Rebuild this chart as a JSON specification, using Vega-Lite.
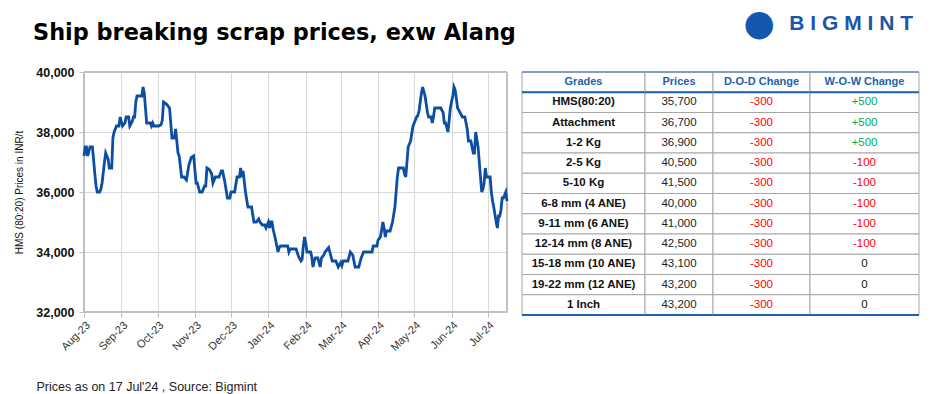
{
  "$schema": "https://vega.github.io/schema/vega-lite/v6.json",
  "background": "white",
  "padding": {"left": 14, "top": 5, "right": 14, "bottom": 4},
  "config": {"view": {"stroke": null}, "font": "Liberation Sans"},
  "datasets": {
    "prices": [
      {"date": "2023-08-01", "price": 37200}, {"date": "2023-08-02", "price": 37500}, {"date": "2023-08-03", "price": 37500},
      {"date": "2023-08-04", "price": 37200}, {"date": "2023-08-06", "price": 37500}, {"date": "2023-08-08", "price": 37500},
      {"date": "2023-08-10", "price": 36600}, {"date": "2023-08-11", "price": 36200}, {"date": "2023-08-12", "price": 36000},
      {"date": "2023-08-14", "price": 36000}, {"date": "2023-08-15", "price": 36100}, {"date": "2023-08-16", "price": 36300},
      {"date": "2023-08-18", "price": 37000}, {"date": "2023-08-19", "price": 37300}, {"date": "2023-08-21", "price": 37100},
      {"date": "2023-08-22", "price": 36800}, {"date": "2023-08-24", "price": 36800}, {"date": "2023-08-25", "price": 37800},
      {"date": "2023-08-26", "price": 38000}, {"date": "2023-08-28", "price": 38200}, {"date": "2023-08-30", "price": 38200},
      {"date": "2023-08-31", "price": 38500}, {"date": "2023-09-02", "price": 38200}, {"date": "2023-09-04", "price": 38300},
      {"date": "2023-09-05", "price": 38500}, {"date": "2023-09-07", "price": 38500}, {"date": "2023-09-08", "price": 38200},
      {"date": "2023-09-10", "price": 38350}, {"date": "2023-09-11", "price": 38500}, {"date": "2023-09-12", "price": 38500},
      {"date": "2023-09-13", "price": 39000}, {"date": "2023-09-14", "price": 39200}, {"date": "2023-09-18", "price": 39200},
      {"date": "2023-09-19", "price": 39500}, {"date": "2023-09-20", "price": 39300}, {"date": "2023-09-21", "price": 38800},
      {"date": "2023-09-22", "price": 38300}, {"date": "2023-09-25", "price": 38300}, {"date": "2023-09-26", "price": 38200},
      {"date": "2023-09-27", "price": 38300}, {"date": "2023-09-28", "price": 38200}, {"date": "2023-10-02", "price": 38200},
      {"date": "2023-10-04", "price": 38250}, {"date": "2023-10-05", "price": 38400}, {"date": "2023-10-06", "price": 39000},
      {"date": "2023-10-08", "price": 38950}, {"date": "2023-10-10", "price": 38850}, {"date": "2023-10-11", "price": 38800},
      {"date": "2023-10-13", "price": 37800}, {"date": "2023-10-15", "price": 37800}, {"date": "2023-10-16", "price": 38100},
      {"date": "2023-10-18", "price": 37300}, {"date": "2023-10-19", "price": 37200}, {"date": "2023-10-21", "price": 36500},
      {"date": "2023-10-23", "price": 36500}, {"date": "2023-10-25", "price": 36400}, {"date": "2023-10-27", "price": 36900},
      {"date": "2023-10-29", "price": 37150}, {"date": "2023-10-31", "price": 37200}, {"date": "2023-11-02", "price": 36300},
      {"date": "2023-11-03", "price": 36300}, {"date": "2023-11-05", "price": 36000}, {"date": "2023-11-07", "price": 36000},
      {"date": "2023-11-09", "price": 36200}, {"date": "2023-11-10", "price": 36200}, {"date": "2023-11-11", "price": 36800},
      {"date": "2023-11-13", "price": 36750}, {"date": "2023-11-15", "price": 36600}, {"date": "2023-11-16", "price": 36300},
      {"date": "2023-11-18", "price": 36500}, {"date": "2023-11-21", "price": 36500}, {"date": "2023-11-23", "price": 36700},
      {"date": "2023-11-24", "price": 36700}, {"date": "2023-11-26", "price": 36300}, {"date": "2023-11-28", "price": 35800},
      {"date": "2023-11-30", "price": 35800}, {"date": "2023-12-01", "price": 36000}, {"date": "2023-12-04", "price": 36000},
      {"date": "2023-12-06", "price": 36500}, {"date": "2023-12-08", "price": 36500}, {"date": "2023-12-09", "price": 36800},
      {"date": "2023-12-10", "price": 36500}, {"date": "2023-12-11", "price": 36700}, {"date": "2023-12-13", "price": 36000},
      {"date": "2023-12-15", "price": 35500}, {"date": "2023-12-18", "price": 35500}, {"date": "2023-12-20", "price": 35000},
      {"date": "2023-12-22", "price": 35000}, {"date": "2023-12-24", "price": 35100}, {"date": "2023-12-25", "price": 35000},
      {"date": "2023-12-27", "price": 34900}, {"date": "2023-12-29", "price": 34900}, {"date": "2023-12-30", "price": 34800},
      {"date": "2024-01-01", "price": 35000}, {"date": "2024-01-02", "price": 34800}, {"date": "2024-01-03", "price": 35000},
      {"date": "2024-01-04", "price": 35000}, {"date": "2024-01-05", "price": 34750}, {"date": "2024-01-07", "price": 34400},
      {"date": "2024-01-09", "price": 34000}, {"date": "2024-01-10", "price": 34150}, {"date": "2024-01-11", "price": 34200},
      {"date": "2024-01-17", "price": 34200}, {"date": "2024-01-18", "price": 34000}, {"date": "2024-01-19", "price": 34100},
      {"date": "2024-01-24", "price": 34100}, {"date": "2024-01-26", "price": 33850}, {"date": "2024-01-28", "price": 33700},
      {"date": "2024-01-29", "price": 33750}, {"date": "2024-01-30", "price": 34200}, {"date": "2024-01-31", "price": 34500},
      {"date": "2024-02-01", "price": 34300}, {"date": "2024-02-02", "price": 34000}, {"date": "2024-02-05", "price": 34000},
      {"date": "2024-02-06", "price": 33850}, {"date": "2024-02-07", "price": 33500}, {"date": "2024-02-08", "price": 33700},
      {"date": "2024-02-09", "price": 33800}, {"date": "2024-02-11", "price": 33800}, {"date": "2024-02-13", "price": 33500},
      {"date": "2024-02-14", "price": 33800}, {"date": "2024-02-16", "price": 33900}, {"date": "2024-02-17", "price": 34000},
      {"date": "2024-02-20", "price": 34150}, {"date": "2024-02-21", "price": 34000}, {"date": "2024-02-23", "price": 33700},
      {"date": "2024-02-26", "price": 33700}, {"date": "2024-02-28", "price": 33500}, {"date": "2024-03-01", "price": 33650},
      {"date": "2024-03-02", "price": 33550}, {"date": "2024-03-03", "price": 33700}, {"date": "2024-03-07", "price": 33700},
      {"date": "2024-03-09", "price": 34000}, {"date": "2024-03-11", "price": 33900}, {"date": "2024-03-13", "price": 33500},
      {"date": "2024-03-16", "price": 33500}, {"date": "2024-03-18", "price": 33800}, {"date": "2024-03-20", "price": 34000},
      {"date": "2024-03-27", "price": 34000}, {"date": "2024-03-28", "price": 34200}, {"date": "2024-03-31", "price": 34200},
      {"date": "2024-04-01", "price": 34400}, {"date": "2024-04-03", "price": 34500}, {"date": "2024-04-05", "price": 35000},
      {"date": "2024-04-06", "price": 34800}, {"date": "2024-04-07", "price": 34500}, {"date": "2024-04-08", "price": 34700},
      {"date": "2024-04-11", "price": 34700}, {"date": "2024-04-13", "price": 35000}, {"date": "2024-04-15", "price": 35500},
      {"date": "2024-04-17", "price": 36500}, {"date": "2024-04-18", "price": 36800}, {"date": "2024-04-22", "price": 36800},
      {"date": "2024-04-23", "price": 36600}, {"date": "2024-04-24", "price": 36500}, {"date": "2024-04-25", "price": 37000},
      {"date": "2024-04-26", "price": 37500}, {"date": "2024-04-28", "price": 37700}, {"date": "2024-04-30", "price": 38200},
      {"date": "2024-05-01", "price": 38300}, {"date": "2024-05-03", "price": 38500}, {"date": "2024-05-04", "price": 38550},
      {"date": "2024-05-05", "price": 38700}, {"date": "2024-05-06", "price": 39000}, {"date": "2024-05-07", "price": 39300},
      {"date": "2024-05-08", "price": 39500}, {"date": "2024-05-10", "price": 39200}, {"date": "2024-05-12", "price": 38650},
      {"date": "2024-05-13", "price": 38500}, {"date": "2024-05-15", "price": 38500}, {"date": "2024-05-16", "price": 38300},
      {"date": "2024-05-17", "price": 38500}, {"date": "2024-05-18", "price": 38800}, {"date": "2024-05-23", "price": 38800},
      {"date": "2024-05-25", "price": 38650}, {"date": "2024-05-26", "price": 38300}, {"date": "2024-05-27", "price": 38300},
      {"date": "2024-05-29", "price": 38000}, {"date": "2024-05-30", "price": 38400}, {"date": "2024-05-31", "price": 38800},
      {"date": "2024-06-02", "price": 39200}, {"date": "2024-06-03", "price": 39500}, {"date": "2024-06-04", "price": 39400},
      {"date": "2024-06-05", "price": 39100}, {"date": "2024-06-06", "price": 38800}, {"date": "2024-06-08", "price": 38650},
      {"date": "2024-06-10", "price": 38500}, {"date": "2024-06-12", "price": 38500}, {"date": "2024-06-14", "price": 38100},
      {"date": "2024-06-15", "price": 37700}, {"date": "2024-06-17", "price": 37700}, {"date": "2024-06-19", "price": 37300},
      {"date": "2024-06-20", "price": 37300}, {"date": "2024-06-21", "price": 38000}, {"date": "2024-06-23", "price": 37500},
      {"date": "2024-06-25", "price": 36500}, {"date": "2024-06-26", "price": 36000}, {"date": "2024-06-27", "price": 36100},
      {"date": "2024-06-28", "price": 36300}, {"date": "2024-06-29", "price": 36800}, {"date": "2024-06-30", "price": 36500},
      {"date": "2024-07-03", "price": 36500}, {"date": "2024-07-04", "price": 36000}, {"date": "2024-07-05", "price": 35700},
      {"date": "2024-07-06", "price": 35500}, {"date": "2024-07-08", "price": 35000}, {"date": "2024-07-09", "price": 34800},
      {"date": "2024-07-10", "price": 35200}, {"date": "2024-07-11", "price": 35200}, {"date": "2024-07-12", "price": 35400},
      {"date": "2024-07-13", "price": 35800}, {"date": "2024-07-14", "price": 35800}, {"date": "2024-07-15", "price": 35900},
      {"date": "2024-07-16", "price": 36000}, {"date": "2024-07-17", "price": 35700}
    ],
    "table": [
      {"grade": "Grades", "price": "Prices", "dod": "D-O-D Change", "wow": "W-O-W Change"},
      {"grade": "HMS(80:20)", "price": "35,700", "dod": "-300", "wow": "+500"},
      {"grade": "Attachment", "price": "36,700", "dod": "-300", "wow": "+500"},
      {"grade": "1-2 Kg", "price": "36,900", "dod": "-300", "wow": "+500"},
      {"grade": "2-5 Kg", "price": "40,500", "dod": "-300", "wow": "-100"},
      {"grade": "5-10 Kg", "price": "41,500", "dod": "-300", "wow": "-100"},
      {"grade": "6-8 mm (4 ANE)", "price": "40,000", "dod": "-300", "wow": "-100"},
      {"grade": "9-11 mm (6 ANE)", "price": "41,000", "dod": "-300", "wow": "-100"},
      {"grade": "12-14 mm (8 ANE)", "price": "42,500", "dod": "-300", "wow": "-100"},
      {"grade": "15-18 mm (10 ANE)", "price": "43,100", "dod": "-300", "wow": "0"},
      {"grade": "19-22 mm (12 ANE)", "price": "43,200", "dod": "-300", "wow": "0"},
      {"grade": "1 Inch", "price": "43,200", "dod": "-300", "wow": "0"}
    ]
  },
  "bounds": "flush",
  "spacing": 15,
  "hconcat": [
    {
      "width": 423,
      "height": 240,
      "data": {"name": "prices"},
      "title": {"text": "Ship breaking scrap prices, exw Alang", "anchor": "start", "frame": "group", "dx": -51, "offset": 22, "fontSize": 22.4, "fontWeight": "bold", "color": "#000000", "font": "DejaVu Sans"},
      "layer": [
        {
          "mark": {"type": "rect", "fill": null, "stroke": "#bfbfbf", "strokeWidth": 1},
          "encoding": {}
        },
        {
          "mark": {"type": "line", "color": "#0b4ea2", "strokeWidth": 2.8, "interpolate": "linear"},
          "encoding": {
            "x": {"field": "date", "type": "temporal",
              "scale": {"domain": ["2023-08-01T00:00:00", "2024-07-17T00:00:00"], "nice": false},
              "axis": {"format": "%b-%y", "tickCount": {"interval": "month", "step": 1}, "labelAngle": -45, "labelAlign": "right", "labelBaseline": "top",
                "labelFontSize": 11, "labelColor": "#333333", "labelPadding": 2, "labelOverlap": false, "labelFlush": false,
                "grid": true, "gridColor": "#d9d9d9", "domainColor": "#bfbfbf", "tickColor": "#bfbfbf", "tickSize": 5,
                "title": "Prices as on 17 Jul'24 , Source: Bigmint", "titleAnchor": "start", "titleAlign": "left", "titleBaseline": "alphabetic",
                "titleX": -48, "titleY": 78, "titleFontSize": 12.5, "titleFontWeight": "normal", "titleColor": "#222222"}
            },
            "y": {"field": "price", "type": "quantitative",
              "scale": {"domain": [32000, 40000], "nice": false, "zero": false},
              "axis": {"values": [32000, 34000, 36000, 38000, 40000], "format": ",.0f", "labelFontSize": 12.5, "labelFontWeight": "bold", "labelColor": "#111111",
                "labelPadding": 5, "grid": true, "gridColor": "#d9d9d9", "domainColor": "#bfbfbf", "tickColor": "#bfbfbf", "tickSize": 5,
                "title": "HMS (80:20) Prices in INR/t", "titleFontSize": 10, "titleFontWeight": "normal", "titleColor": "#111111", "titlePadding": 11}
            }
          }
        }
      ]
    },
    {
      "bounds": "flush",
      "spacing": 0,
      "data": {"name": "table"},
      "hconcat": [
        {
          "width": 123, "height": 243,
          "layer": [
            {"mark": {"type": "rect", "fill": "white", "stroke": "#a6a6a6", "strokeWidth": 1},
             "encoding": {"x": {"value": 0}, "x2": {"value": "width"},
               "y": {"field": "grade", "type": "nominal", "axis": null,
                 "scale": {"domain": ["Grades", "HMS(80:20)", "Attachment", "1-2 Kg", "2-5 Kg", "5-10 Kg", "6-8 mm (4 ANE)", "9-11 mm (6 ANE)", "12-14 mm (8 ANE)", "15-18 mm (10 ANE)", "19-22 mm (12 ANE)", "1 Inch"], "paddingInner": 0, "paddingOuter": 0}}}},
            {"transform": [{"filter": "datum.grade === 'Grades'"}],
             "mark": {"type": "text", "fontSize": 11, "fontWeight": "bold", "color": "#2262ad"},
             "encoding": {"y": {"field": "grade", "type": "nominal"}, "text": {"field": "grade"}}},
            {"transform": [{"filter": "datum.grade !== 'Grades'"}],
             "mark": {"type": "text", "fontSize": 11.5, "fontWeight": "bold", "color": "#111111"},
             "encoding": {"y": {"field": "grade", "type": "nominal"}, "text": {"field": "grade"}}},
            {"transform": [{"filter": "datum.grade === 'Grades'"}],
             "mark": {"type": "rule", "color": "#2e6db4", "strokeWidth": 1},
             "encoding": {"x": {"value": 0}, "x2": {"value": "width"}, "y": {"field": "grade", "type": "nominal", "bandPosition": 0}}},
            {"transform": [{"filter": "datum.grade === 'Grades' || datum.grade === '1 Inch'"}],
             "mark": {"type": "rule", "color": "#1e62ad", "strokeWidth": 2},
             "encoding": {"x": {"value": 0}, "x2": {"value": "width"}, "y": {"field": "grade", "type": "nominal", "bandPosition": 1}}}
          ]
        },
        {
          "width": 68, "height": 243,
          "layer": [
            {"mark": {"type": "rect", "fill": "white", "stroke": "#a6a6a6", "strokeWidth": 1},
             "encoding": {"x": {"value": 0}, "x2": {"value": "width"},
               "y": {"field": "grade", "type": "nominal", "axis": null,
                 "scale": {"domain": ["Grades", "HMS(80:20)", "Attachment", "1-2 Kg", "2-5 Kg", "5-10 Kg", "6-8 mm (4 ANE)", "9-11 mm (6 ANE)", "12-14 mm (8 ANE)", "15-18 mm (10 ANE)", "19-22 mm (12 ANE)", "1 Inch"], "paddingInner": 0, "paddingOuter": 0}}}},
            {"transform": [{"filter": "datum.grade === 'Grades'"}],
             "mark": {"type": "text", "fontSize": 11, "fontWeight": "bold", "color": "#2262ad"},
             "encoding": {"y": {"field": "grade", "type": "nominal"}, "text": {"field": "price"}}},
            {"transform": [{"filter": "datum.grade !== 'Grades'"}],
             "mark": {"type": "text", "fontSize": 11.5, "color": "#222222"},
             "encoding": {"y": {"field": "grade", "type": "nominal"}, "text": {"field": "price"}}},
            {"transform": [{"filter": "datum.grade === 'Grades'"}],
             "mark": {"type": "rule", "color": "#2e6db4", "strokeWidth": 1},
             "encoding": {"x": {"value": 0}, "x2": {"value": "width"}, "y": {"field": "grade", "type": "nominal", "bandPosition": 0}}},
            {"transform": [{"filter": "datum.grade === 'Grades' || datum.grade === '1 Inch'"}],
             "mark": {"type": "rule", "color": "#1e62ad", "strokeWidth": 2},
             "encoding": {"x": {"value": 0}, "x2": {"value": "width"}, "y": {"field": "grade", "type": "nominal", "bandPosition": 1}}}
          ]
        },
        {
          "width": 97, "height": 243,
          "title": {"text": "●", "anchor": "end", "frame": "group", "dx": -35, "offset": 29, "fontSize": 36, "fontWeight": "normal", "color": "#1457b0", "font": "DejaVu Sans"},
          "layer": [
            {"mark": {"type": "rect", "fill": "white", "stroke": "#a6a6a6", "strokeWidth": 1},
             "encoding": {"x": {"value": 0}, "x2": {"value": "width"},
               "y": {"field": "grade", "type": "nominal", "axis": null,
                 "scale": {"domain": ["Grades", "HMS(80:20)", "Attachment", "1-2 Kg", "2-5 Kg", "5-10 Kg", "6-8 mm (4 ANE)", "9-11 mm (6 ANE)", "12-14 mm (8 ANE)", "15-18 mm (10 ANE)", "19-22 mm (12 ANE)", "1 Inch"], "paddingInner": 0, "paddingOuter": 0}}}},
            {"transform": [{"filter": "datum.grade === 'Grades'"}],
             "mark": {"type": "text", "fontSize": 11, "fontWeight": "bold", "color": "#2262ad"},
             "encoding": {"y": {"field": "grade", "type": "nominal"}, "text": {"field": "dod"}}},
            {"transform": [{"filter": "datum.grade !== 'Grades'"}],
             "mark": {"type": "text", "fontSize": 11.5},
             "encoding": {"y": {"field": "grade", "type": "nominal"}, "text": {"field": "dod"},
               "color": {"condition": [{"test": "indexof(datum.dod, '-') === 0", "value": "#ff0000"}, {"test": "indexof(datum.dod, '+') === 0", "value": "#00b050"}], "value": "#111111"}}},
            {"transform": [{"filter": "datum.grade === 'Grades'"}],
             "mark": {"type": "rule", "color": "#2e6db4", "strokeWidth": 1},
             "encoding": {"x": {"value": 0}, "x2": {"value": "width"}, "y": {"field": "grade", "type": "nominal", "bandPosition": 0}}},
            {"transform": [{"filter": "datum.grade === 'Grades' || datum.grade === '1 Inch'"}],
             "mark": {"type": "rule", "color": "#1e62ad", "strokeWidth": 2},
             "encoding": {"x": {"value": 0}, "x2": {"value": "width"}, "y": {"field": "grade", "type": "nominal", "bandPosition": 1}}}
          ]
        },
        {
          "width": 109, "height": 243,
          "title": {"text": "B I G M I N T", "anchor": "end", "frame": "group", "dx": -6, "offset": 38, "fontSize": 21, "fontWeight": "bold", "color": "#1c55a8", "font": "Liberation Sans"},
          "layer": [
            {"mark": {"type": "rect", "fill": "white", "stroke": "#a6a6a6", "strokeWidth": 1},
             "encoding": {"x": {"value": 0}, "x2": {"value": "width"},
               "y": {"field": "grade", "type": "nominal", "axis": null,
                 "scale": {"domain": ["Grades", "HMS(80:20)", "Attachment", "1-2 Kg", "2-5 Kg", "5-10 Kg", "6-8 mm (4 ANE)", "9-11 mm (6 ANE)", "12-14 mm (8 ANE)", "15-18 mm (10 ANE)", "19-22 mm (12 ANE)", "1 Inch"], "paddingInner": 0, "paddingOuter": 0}}}},
            {"transform": [{"filter": "datum.grade === 'Grades'"}],
             "mark": {"type": "text", "fontSize": 11, "fontWeight": "bold", "color": "#2262ad"},
             "encoding": {"y": {"field": "grade", "type": "nominal"}, "text": {"field": "wow"}}},
            {"transform": [{"filter": "datum.grade !== 'Grades'"}],
             "mark": {"type": "text", "fontSize": 11.5},
             "encoding": {"y": {"field": "grade", "type": "nominal"}, "text": {"field": "wow"},
               "color": {"condition": [{"test": "indexof(datum.wow, '-') === 0", "value": "#ff0000"}, {"test": "indexof(datum.wow, '+') === 0", "value": "#00b050"}], "value": "#111111"}}},
            {"transform": [{"filter": "datum.grade === 'Grades'"}],
             "mark": {"type": "rule", "color": "#2e6db4", "strokeWidth": 1},
             "encoding": {"x": {"value": 0}, "x2": {"value": "width"}, "y": {"field": "grade", "type": "nominal", "bandPosition": 0}}},
            {"transform": [{"filter": "datum.grade === 'Grades' || datum.grade === '1 Inch'"}],
             "mark": {"type": "rule", "color": "#1e62ad", "strokeWidth": 2},
             "encoding": {"x": {"value": 0}, "x2": {"value": "width"}, "y": {"field": "grade", "type": "nominal", "bandPosition": 1}}}
          ]
        }
      ]
    }
  ]
}
